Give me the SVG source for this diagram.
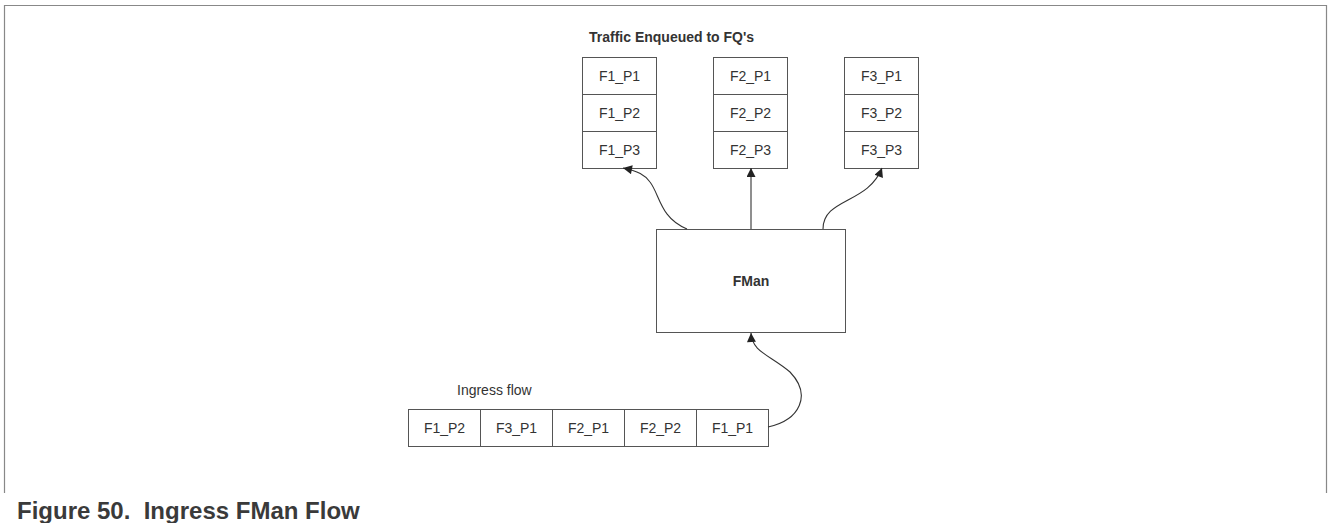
<svg xmlns="http://www.w3.org/2000/svg" width="1328" height="523" viewBox="0 0 1328 523">
<style>
.box{fill:#fff;stroke:#555;stroke-width:1}
.t{font-family:"Liberation Sans",Arial,sans-serif;font-size:14px;fill:#333;text-anchor:middle}
.b{font-weight:bold}
.c{fill:none;stroke:#333;stroke-width:1.1}
.frame{fill:none;stroke:#888;stroke-width:1.2}
</style>
<defs>
<marker id="ah" viewBox="0 0 10 10" refX="10" refY="5" markerWidth="11" markerHeight="9" markerUnits="userSpaceOnUse" orient="auto">
<path d="M0,0 L10,5 L0,10 z" fill="#222"/>
</marker>
</defs>
<rect width="1328" height="523" fill="#fff"/>
<path class="frame" d="M4.5,493 V5.5 H1326.5 V493"/>
<text x="589" y="42" class="t b" style="text-anchor:start">Traffic Enqueued to FQ's</text>
<g id="fq1">
<rect class="box" x="582.5" y="57.5" width="74" height="37"/>
<rect class="box" x="582.5" y="94.5" width="74" height="37"/>
<rect class="box" x="582.5" y="131.5" width="74" height="37"/>
<text class="t" x="619.5" y="81">F1_P1</text>
<text class="t" x="619.5" y="118">F1_P2</text>
<text class="t" x="619.5" y="155">F1_P3</text>
</g>
<g id="fq2">
<rect class="box" x="713.5" y="57.5" width="74" height="37"/>
<rect class="box" x="713.5" y="94.5" width="74" height="37"/>
<rect class="box" x="713.5" y="131.5" width="74" height="37"/>
<text class="t" x="750.5" y="81">F2_P1</text>
<text class="t" x="750.5" y="118">F2_P2</text>
<text class="t" x="750.5" y="155">F2_P3</text>
</g>
<g id="fq3">
<rect class="box" x="844.5" y="57.5" width="74" height="37"/>
<rect class="box" x="844.5" y="94.5" width="74" height="37"/>
<rect class="box" x="844.5" y="131.5" width="74" height="37"/>
<text class="t" x="881.5" y="81">F3_P1</text>
<text class="t" x="881.5" y="118">F3_P2</text>
<text class="t" x="881.5" y="155">F3_P3</text>
</g>
<g id="fman">
<rect class="box" x="656.5" y="229.5" width="189" height="103"/>
<text class="t b" x="751" y="286">FMan</text>
</g>
<g id="ingress">
<text class="t" x="457" y="395" style="text-anchor:start">Ingress flow</text>
<rect class="box" x="408.5" y="409.5" width="72" height="37"/>
<rect class="box" x="480.5" y="409.5" width="72" height="37"/>
<rect class="box" x="552.5" y="409.5" width="72" height="37"/>
<rect class="box" x="624.5" y="409.5" width="72" height="37"/>
<rect class="box" x="696.5" y="409.5" width="72" height="37"/>
<text class="t" x="444.5" y="433">F1_P2</text>
<text class="t" x="516.5" y="433">F3_P1</text>
<text class="t" x="588.5" y="433">F2_P1</text>
<text class="t" x="660.5" y="433">F2_P2</text>
<text class="t" x="732.5" y="433">F1_P1</text>
</g>
<g id="connectors">
<path class="c" d="M687,229 C660,218 660,195 650,182 C645,175 638,171 623,168" marker-end="url(#ah)"/>
<path class="c" d="M751,229 L751,168" marker-end="url(#ah)"/>
<path class="c" d="M823,229 C823,198 868,204 882,168" marker-end="url(#ah)"/>
<path class="c" d="M768,427 C800,420 812,395 790,372 C770,355 752,352 751,333" marker-end="url(#ah)"/>
</g>
<text x="17" y="519" font-family="'Liberation Sans',Arial,sans-serif" font-size="24" font-weight="bold" fill="#3a3a3a">Figure 50.&#160; Ingress FMan Flow</text>
</svg>
